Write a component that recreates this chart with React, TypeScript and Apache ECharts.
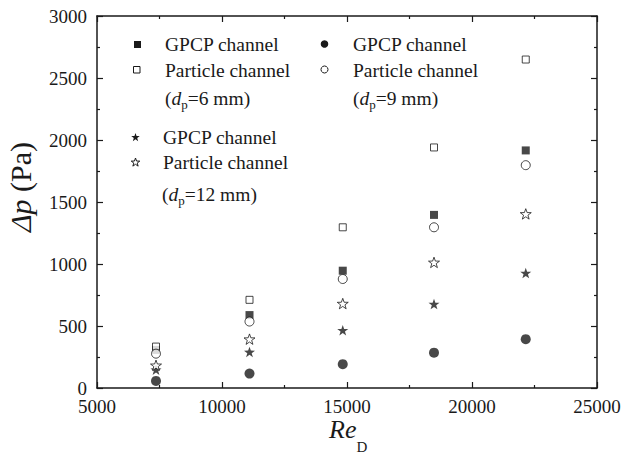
import React, { useEffect, useRef } from "react";
import * as echarts from "echarts";

// ---- Data ----
const reD = [7360, 11100, 14830, 18480, 22150];
const gpcp6 = [307, 588, 946, 1396, 1916];
const particle6 = [334, 711, 1296, 1940, 2649];
const gpcp9 = [57, 116, 192, 285, 394];
const particle9 = [277, 536, 879, 1296, 1797];
const gpcp12 = [148, 291, 466, 677, 927];
const particle12 = [183, 394, 681, 1013, 1404];

const xTicks = { min: 5000, max: 25000, interval: 5000 };
const yTicks = { min: 0, max: 3000, interval: 500 };

const FONT = "Liberation Serif";
const INK = "#1a1a1a";
const STAR_PATH =
  "path://M50 0 L61.76 33.82 L97.55 34.55 L69.02 56.18 L79.39 90.45 L50 70 L20.61 90.45 L30.98 56.18 L2.45 34.55 L38.24 33.82 Z";

function pairs(xs: number[], ys: number[]) {
  return xs.map((x, i) => [x, ys[i]]);
}

let measureCtx: CanvasRenderingContext2D | null = null;
function tw(text: string, size: number, italic?: boolean) {
  if (!measureCtx) measureCtx = document.createElement("canvas").getContext("2d");
  if (!measureCtx) return text.length * size * 0.5;
  measureCtx.font = `${italic ? "italic " : ""}${size}px "${FONT}", serif`;
  return measureCtx.measureText(text).width;
}

type Part = { t: string; i?: boolean; s?: boolean };
function runs(x: number, y: number, parts: Part[], size = 19.5, subSize = 13, subShift = 6) {
  const out: any[] = [];
  let cx = x;
  for (const p of parts) {
    const fs = p.s ? subSize : size;
    out.push({
      type: "text",
      x: cx,
      y: p.s ? y + subShift : y,
      silent: true,
      style: {
        text: p.t,
        fontSize: fs,
        fontFamily: FONT,
        fontStyle: p.i ? "italic" : "normal",
        fill: INK,
        align: "left",
        verticalAlign: "middle",
        textAlign: "left",
        textVerticalAlign: "middle",
      },
    });
    cx += tw(p.t, fs, p.i);
  }
  return out;
}

function starPoints(cx: number, cy: number, r: number) {
  const pts: number[][] = [];
  for (let k = 0; k < 10; k++) {
    const ang = -Math.PI / 2 + (k * Math.PI) / 5;
    const rr = k % 2 === 0 ? r : r * 0.4;
    pts.push([cx + rr * Math.cos(ang), cy + rr * Math.sin(ang)]);
  }
  return pts;
}

const filled = { fill: INK };
const open = { fill: "#fff", stroke: INK, lineWidth: 1 };

function legendGraphics() {
  const g: any[] = [];
  // column 1 (6 mm)
  g.push({ type: "rect", shape: { x: 134, y: 41, width: 7, height: 7 }, style: filled });
  g.push(...runs(165, 44.5, [{ t: "GPCP channel" }]));
  g.push({ type: "rect", shape: { x: 133.5, y: 66.5, width: 6.5, height: 6.5 }, style: open });
  g.push(...runs(165, 70, [{ t: "Particle channel" }]));
  g.push(...runs(165, 98, [{ t: "(" }, { t: "d", i: true }, { t: "p", s: true }, { t: "=6 mm)" }]));
  // column 2 (9 mm)
  g.push({ type: "circle", shape: { cx: 324.5, cy: 44, r: 3.8 }, style: filled });
  g.push(...runs(353, 44.5, [{ t: "GPCP channel" }]));
  g.push({ type: "circle", shape: { cx: 324.5, cy: 69.5, r: 3.5 }, style: open });
  g.push(...runs(353, 70, [{ t: "Particle channel" }]));
  g.push(...runs(353, 98, [{ t: "(" }, { t: "d", i: true }, { t: "p", s: true }, { t: "=9 mm)" }]));
  // column 1 lower (12 mm)
  g.push({ type: "polygon", shape: { points: starPoints(135.5, 137.5, 4.5) }, style: filled });
  g.push(...runs(163, 137.5, [{ t: "GPCP channel" }]));
  g.push({ type: "polygon", shape: { points: starPoints(135.5, 162.5, 4.5) }, style: open });
  g.push(...runs(163, 162.5, [{ t: "Particle channel" }]));
  g.push(...runs(162, 194, [{ t: "(" }, { t: "d", i: true }, { t: "p", s: true }, { t: "=12 mm)" }]));
  // axis titles
  g.push(...runs(329, 429, [{ t: "Re", i: true }, { t: "D", s: true }], 26, 15, 18));
  g.push({
    type: "text",
    x: 20,
    y: 187,
    rotation: Math.PI / 2,
    silent: true,
    style: {
      text: "{i|Δp} (Pa)",
      fontSize: 30,
      fontFamily: FONT,
      fill: INK,
      align: "center",
      verticalAlign: "middle",
      textAlign: "center",
      textVerticalAlign: "middle",
      rich: { i: { fontSize: 30, fontFamily: FONT, fontStyle: "italic", fill: INK } },
    },
  });
  return g;
}

function axisCommon(showLabel: boolean, margin = 8) {
  return {
    axisLine: { show: true, onZero: false, lineStyle: { color: INK, width: 1.5 } },
    axisTick: { show: true, inside: true, length: 6, lineStyle: { color: INK, width: 1.2 } },
    minorTick: { show: true, splitNumber: 2, length: 3, lineStyle: { color: INK, width: 1.2 } },
    splitLine: { show: false },
    minorSplitLine: { show: false },
    axisLabel: {
      show: showLabel,
      fontSize: 19,
      fontFamily: FONT,
      color: INK,
      margin,
      formatter: (v: number) => String(v),
    },
  };
}

export default function App() {
  const ref = useRef<HTMLDivElement>(null);
  useEffect(() => {
    document.body.style.margin = "0";
    if (!ref.current) return;
    const chart = echarts.init(ref.current, undefined, { renderer: "svg" });
    const sym = (symbol: string, size: number, isFilled: boolean) => ({
      symbol,
      symbolSize: size,
      symbolKeepAspect: true,
      itemStyle: isFilled
        ? { color: INK, borderWidth: 0 }
        : { color: "#fff", borderColor: INK, borderWidth: 1 },
    });
    chart.setOption({
      animation: false,
      backgroundColor: "#fff",
      textStyle: { fontFamily: FONT },
      grid: { left: 97, right: 27, top: 16, bottom: 70, containLabel: false },
      xAxis: [
        { type: "value", position: "bottom", ...xTicks, ...axisCommon(true, 9) },
        { type: "value", position: "top", ...xTicks, ...axisCommon(false) },
      ],
      yAxis: [
        { type: "value", position: "left", ...yTicks, ...axisCommon(true, 10) },
        { type: "value", position: "right", ...yTicks, ...axisCommon(false) },
      ],
      series: [
        { type: "scatter", name: "GPCP channel (dp=6 mm)", data: pairs(reD, gpcp6), ...sym("rect", 8, true) },
        { type: "scatter", name: "Particle channel (dp=6 mm)", data: pairs(reD, particle6), ...sym("rect", 7, false) },
        { type: "scatter", name: "GPCP channel (dp=9 mm)", data: pairs(reD, gpcp9), ...sym("circle", 10, true) },
        { type: "scatter", name: "Particle channel (dp=9 mm)", data: pairs(reD, particle9), ...sym("circle", 9, false) },
        { type: "scatter", name: "GPCP channel (dp=12 mm)", data: pairs(reD, gpcp12), ...sym(STAR_PATH, 11, true) },
        { type: "scatter", name: "Particle channel (dp=12 mm)", data: pairs(reD, particle12), ...sym(STAR_PATH, 11, false) },
      ],
      graphic: legendGraphics(),
    });
    return () => chart.dispose();
  }, []);
  return <div ref={ref} style={{ width: 624, height: 458 }} />;
}
